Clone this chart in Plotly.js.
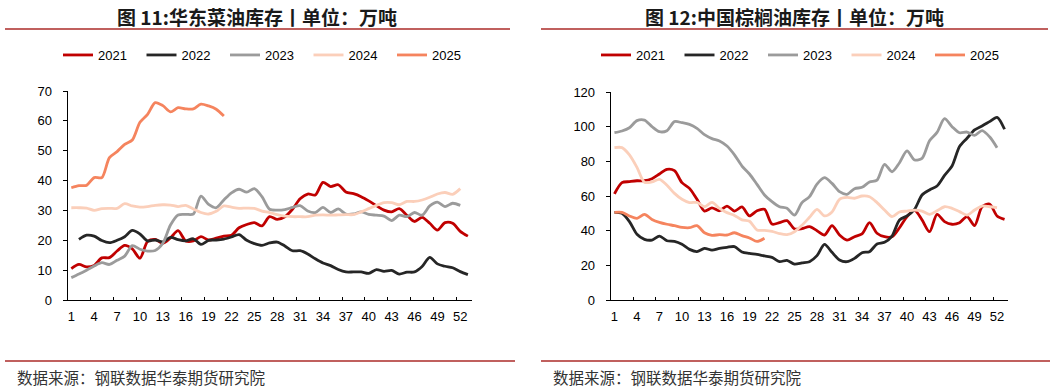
<!DOCTYPE html>
<html>
<head>
<meta charset="utf-8">
<script src="https://cdn.plot.ly/plotly-3.0.1.min.js"></script>
<style>
  html, body { margin: 0; padding: 0; background: #fff; overflow: hidden; }
  #chart { width: 1057px; height: 390px; }
</style>
</head>
<body>
<div id="chart"></div>
<script>
// ---------- data ----------
const weeks = [1,2,3,4,5,6,7,8,9,10,11,12,13,14,15,16,17,18,19,20,21,22,23,24,25,26,27,28,29,30,31,32,33,34,35,36,37,38,39,40,41,42,43,44,45,46,47,48,49,50,51,52,53];
const weekTickVals = [1,4,7,10,13,16,19,22,25,28,31,34,37,40,43,46,49,52];
const weekTickText = ["1","4","7","10","13","16","19","22","25","28","31","34","37","40","43","46","49","52"];
const seriesNames = ["2021","2022","2023","2024","2025"];

// 华东菜油库存 (万吨)
const rape2021 = [10.5,11.9,11.1,11.6,14.1,14.2,16.4,18.3,17.1,14.0,19.6,20.3,19.0,20.8,23.2,19.8,19.8,21.2,20.1,20.7,21.4,21.7,24.2,25.3,25.9,24.8,27.9,27.0,27.9,30.4,33.9,35.5,35.2,39.4,38.0,38.6,36.2,35.6,34.6,33.2,31.6,30.1,29.5,30.6,28.4,26.3,27.7,25.7,23.4,25.9,25.7,23.0,21.4];
const rape2022 = [null,20.3,21.7,21.4,19.9,19.2,20.0,21.2,23.3,22.1,19.8,20.1,19.5,21.0,20.2,19.8,20.5,18.6,20.0,20.1,20.4,21.1,21.9,20.0,18.9,18.3,19.1,19.4,18.1,16.5,16.5,15.4,13.8,12.4,11.5,10.2,9.4,9.4,9.4,8.9,10.2,9.6,9.9,8.7,9.3,9.4,11.2,14.3,12.1,11.3,10.8,9.5,8.5];
const rape2023 = [7.5,8.7,10.0,11.4,12.5,11.9,13.3,14.7,18.2,17.0,16.4,16.6,19.0,25.1,28.5,28.7,28.8,34.8,32.0,30.9,33.5,35.9,37.1,36.1,37.3,34.6,30.4,30.1,30.3,31.0,31.6,29.8,29.3,31.0,29.3,30.5,28.8,28.8,29.5,28.7,28.4,28.1,26.6,28.4,27.9,29.3,28.4,31.5,32.8,31.3,32.4,31.7,null];
const rape2024 = [30.9,30.9,30.8,30.0,30.6,30.7,30.7,32.3,31.5,31.1,31.3,31.7,31.9,31.8,31.3,31.7,30.5,29.3,28.8,29.7,31.5,31.1,30.7,30.8,30.7,29.8,29.3,28.6,28.1,27.9,27.9,27.9,28.4,28.5,28.4,28.5,28.6,28.6,29.5,30.6,31.7,32.6,32.6,31.9,33.0,33.0,33.5,34.4,35.5,36.0,35.4,37.3,null];
const rape2025 = [37.6,38.3,38.4,41.0,41.0,47.7,49.7,52.1,53.6,59.5,62.2,66.1,65.1,63.0,64.4,64.0,64.0,65.6,65.0,63.9,61.6];

// 中国棕榈油库存 (万吨)
const palm2021 = [61.2,67.7,68.3,68.8,68.8,70.0,72.7,75.4,74.6,67.7,64.4,58.1,51.3,53.1,51.5,54.2,51.3,53.7,48.5,51.5,52.3,43.8,44.6,45.8,41.0,41.2,42.3,40.0,37.5,42.9,37.5,34.6,36.5,38.1,44.6,38.5,36.5,36.5,41.7,48.1,51.9,46.2,39.4,49.4,45.2,43.7,44.6,48.1,42.9,53.8,55.4,48.5,46.5];
const palm2022 = [50.6,50.0,45.2,37.9,35.0,34.6,36.9,34.2,33.8,32.1,29.2,27.9,29.8,28.8,29.8,30.4,30.8,27.7,26.9,26.3,25.4,24.6,22.1,22.9,20.7,21.4,22.1,25.6,32.1,27.5,23.1,22.1,24.0,27.3,27.9,32.3,33.3,36.9,46.2,48.5,52.3,60.6,63.5,65.8,71.9,77.3,88.5,93.3,98.1,100.4,102.9,105.4,98.5];
const palm2023 = [96.5,97.5,99.4,103.5,103.8,100.0,97.1,97.7,102.9,102.3,101.3,99.0,95.4,93.1,91.7,88.8,83.7,77.3,72.7,66.7,60.6,56.7,53.8,52.9,49.0,56.2,59.6,66.9,70.6,67.3,62.5,61.0,64.2,65.0,68.1,69.2,78.3,74.0,79.2,86.0,80.8,81.7,91.9,96.7,104.6,100.0,96.5,96.9,95.0,97.7,94.2,87.9,null];
const palm2024 = [87.9,87.9,83.7,76.5,67.9,68.1,69.6,66.2,61.5,58.1,56.2,56.3,53.8,56.3,52.9,50.4,48.8,46.2,45.4,40.4,40.2,39.6,38.3,37.7,39.4,43.1,47.7,52.3,48.5,50.8,58.1,59.2,58.7,60.0,59.6,56.2,51.9,48.1,50.8,51.3,51.9,51.3,49.4,51.5,53.8,52.9,51.0,49.0,51.9,54.2,53.8,53.3,null];
const palm2025 = [50.6,50.6,48.5,47.1,49.4,46.5,44.8,43.7,42.9,41.9,41.7,42.9,38.8,37.3,37.7,37.5,38.8,37.1,35.8,33.8,35.6];

const leftTitle = "图 11:华东菜油库存丨单位：万吨";
const rightTitle = "图 12:中国棕榈油库存丨单位：万吨";
const sourceText = "数据来源：钢联数据华泰期货研究院";

// ---------- styling ----------
const colors = ["#c00000", "#262626", "#9b9b9b", "#fbcfba", "#f5845e"];
const W = 1057, H = 390;
const fx = v => v / W;
const fy = v => 1 - v / H;
const FONT = "Liberation Sans, Arial, Noto Sans CJK SC, sans-serif";
const CJK = "Noto Sans CJK SC, Liberation Sans, sans-serif";

const leftSets = [rape2021, rape2022, rape2023, rape2024, rape2025];
const rightSets = [palm2021, palm2022, palm2023, palm2024, palm2025];

const traces = [];
leftSets.forEach((ys, i) => {
  traces.push({
    type: "scatter", mode: "lines", name: seriesNames[i],
    x: weeks.slice(0, ys.length), y: ys, xaxis: "x", yaxis: "y",
    line: { color: colors[i], width: 2.8, shape: "spline", smoothing: 0.8 },
    connectgaps: false, legend: "legend", hoverinfo: "x+y+name"
  });
});
rightSets.forEach((ys, i) => {
  traces.push({
    type: "scatter", mode: "lines", name: seriesNames[i],
    x: weeks.slice(0, ys.length), y: ys, xaxis: "x2", yaxis: "y2",
    line: { color: colors[i], width: 2.8, shape: "spline", smoothing: 0.8 },
    connectgaps: false, legend: "legend2", hoverinfo: "x+y+name"
  });
});

const boundaryTicks = weekTickVals.map(w => w - 0.5);

function xAxis(domain, anchor) {
  return {
    domain: domain, anchor: anchor, range: [0.5, 53.5],
    tickmode: "array", tickvals: weekTickVals, ticktext: weekTickText, tickangle: 0,
    ticks: "outside", ticklen: 4, tickcolor: "rgba(0,0,0,0)",
    minor: { tickmode: "array", tickvals: boundaryTicks, ticks: "inside", ticklen: 3, tickwidth: 1, tickcolor: "#000", showgrid: false },
    showline: true, linecolor: "#000", linewidth: 1,
    showgrid: false, zeroline: false, automargin: false,
    tickfont: { family: FONT, size: 13, color: "#000" }, fixedrange: true
  };
}
function yAxis(domain, anchor, max, step) {
  return {
    domain: domain, anchor: anchor, range: [0, max], dtick: step, tick0: 0,
    ticks: "outside", ticklen: 4, tickcolor: "#000",
    showline: true, linecolor: "#000", linewidth: 1,
    showgrid: false, zeroline: false, ticklabelstandoff: 8, automargin: false,
    tickfont: { family: FONT, size: 13, color: "#000" }, fixedrange: true
  };
}

const rule = "#c0605e";
const legendBase = {
  orientation: "h", xanchor: "left", yanchor: "middle",
  entrywidth: 38.5, entrywidthmode: "pixels", traceorder: "normal",
  font: { family: FONT, size: 13, color: "#000" }, bgcolor: "rgba(0,0,0,0)", borderwidth: 0
};
const layout = {
  width: W, height: H, autosize: false,
  margin: { l: 0, r: 0, t: 0, b: 0, pad: 0, autoexpand: false },
  paper_bgcolor: "#fff", plot_bgcolor: "#fff",
  showlegend: true,
  xaxis: xAxis([fx(67.5), fx(471.7)], "y"),
  yaxis: yAxis([fy(300), fy(91)], "x", 70, 10),
  xaxis2: xAxis([fx(610.7), fx(1008.3)], "y2"),
  yaxis2: yAxis([fy(300), fy(92)], "x2", 120, 20),
  legend: Object.assign({}, legendBase, { x: fx(58), y: fy(55) }),
  legend2: Object.assign({}, legendBase, { x: fx(596), y: fy(55) }),
  shapes: [
    { type: "line", xref: "paper", yref: "paper", x0: fx(5), x1: fx(510), y0: fy(29), y1: fy(29), line: { color: rule, width: 2 } },
    { type: "line", xref: "paper", yref: "paper", x0: fx(541), x1: fx(1048), y0: fy(29), y1: fy(29), line: { color: rule, width: 2 } },
    { type: "line", xref: "paper", yref: "paper", x0: fx(5), x1: fx(515), y0: fy(361), y1: fy(361), line: { color: rule, width: 2 } },
    { type: "line", xref: "paper", yref: "paper", x0: fx(541), x1: fx(1050), y0: fy(361), y1: fy(361), line: { color: rule, width: 2 } }
  ],
  annotations: [
    { text: "<b>" + leftTitle + "</b>", xref: "paper", yref: "paper", x: fx(257), y: fy(17), xanchor: "center", yanchor: "middle", showarrow: false, font: { family: CJK, size: 19, color: "#1a1a1a" } },
    { text: "<b>" + rightTitle + "</b>", xref: "paper", yref: "paper", x: fx(794.5), y: fy(17), xanchor: "center", yanchor: "middle", showarrow: false, font: { family: CJK, size: 19, color: "#1a1a1a" } },
    { text: sourceText, xref: "paper", yref: "paper", x: fx(15), y: fy(377), xanchor: "left", yanchor: "middle", showarrow: false, font: { family: CJK, size: 15.5, color: "#333" } },
    { text: sourceText, xref: "paper", yref: "paper", x: fx(551), y: fy(377), xanchor: "left", yanchor: "middle", showarrow: false, font: { family: CJK, size: 15.5, color: "#333" } }
  ]
};

Plotly.newPlot("chart", traces, layout, { displayModeBar: false, staticPlot: true });
</script>
</body>
</html>
